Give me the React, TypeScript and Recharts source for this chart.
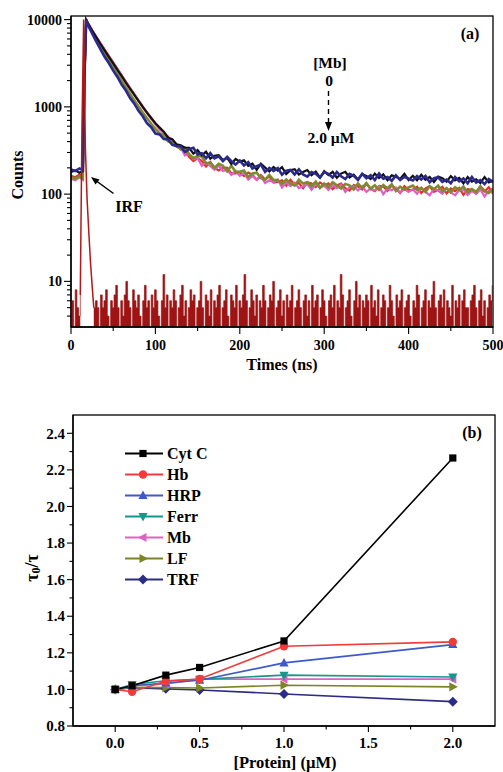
import React from 'react';
import { ComposedChart, LineChart, Line, Area, XAxis, YAxis, Legend } from 'recharts';

const FONT = '"Liberation Serif", "Times New Roman", serif';

// ---------- panel (a): fluorescence decay, [Mb] 0 -> 2.0 uM ----------
const decayTimes = [
  0, 5, 10, 14, 16, 18, 20, 25, 30, 35, 40, 45, 50, 55, 60, 65, 70, 75, 80, 85, 90, 95, 100,
  105, 110, 115, 120, 125, 130, 135, 140, 145, 150, 155, 160, 165, 170, 175, 180, 185, 190, 195, 200,
  205, 210, 215, 220, 225, 230, 235, 240, 245, 250, 255, 260, 265, 270, 275, 280, 285, 290, 295, 300,
  305, 310, 315, 320, 325, 330, 335, 340, 345, 350, 355, 360, 365, 370, 375, 380, 385, 390, 395, 400,
  405, 410, 415, 420, 425, 430, 435, 440, 445, 450, 455, 460, 465, 470, 475, 480, 485, 490, 495, 500,
];

const traceNavy = [
  192, 184, 197, 188, 2600, 10000, 8700,
  6950, 5580, 4570, 3720, 3160, 2600, 2200, 1800, 1540, 1260, 1090, 900, 780, 650, 585, 495,
  484, 428, 423, 367, 356, 352, 304, 328, 339, 285, 295, 258, 295, 257, 271, 239, 267, 238, 218, 242,
  213, 233, 197, 209, 218, 180, 200, 185, 199, 167, 186, 190, 168, 193, 168, 159, 179, 171, 155, 179,
  171, 155, 179, 160, 149, 171, 162, 145, 171, 152, 165, 145, 172, 150, 157, 142, 164, 145, 158, 150,
  143, 161, 147, 162, 137, 152, 156, 138, 147, 133, 157, 140, 151, 133, 157, 136, 145, 130, 149, 137,
];

const traceBlack = [
  180, 187, 176, 183, 2200, 9900, 9100,
  7500, 6250, 5250, 4420, 3720, 3150, 2660, 2250, 1900, 1610, 1370, 1170, 1000, 860, 745, 650,
  578, 520, 443, 426, 373, 363, 340, 340, 291, 320, 278, 307, 255, 275, 280, 246, 260, 222, 253, 236,
  244, 211, 223, 190, 224, 202, 182, 204, 186, 204, 170, 188, 193, 168, 179, 189, 165, 181, 155, 183,
  165, 180, 154, 172, 180, 155, 167, 147, 170, 162, 149, 172, 153, 168, 144, 164, 158, 149, 171, 145,
  162, 144, 167, 146, 157, 138, 159, 152, 139, 161, 144, 153, 133, 157, 139, 148, 134, 157, 136, 143,
];

const traceRed = [
  162, 156, 168, 158, 2300, 10000, 9200,
  7600, 6350, 5350, 4520, 3820, 3230, 2730, 2310, 1950, 1650, 1400, 1190, 1010, 865, 745, 645,
  581, 495, 458, 402, 351, 332, 316, 266, 239, 258, 239, 207, 233, 200, 187, 201, 200, 173, 173, 178,
  161, 177, 166, 146, 165, 147, 160, 136, 138, 144, 125, 146, 128, 134, 117, 137, 132, 121, 136, 125,
  133, 114, 126, 132, 117, 110, 127, 122, 113, 131, 115, 108, 124, 122, 109, 126, 115, 103, 123, 111,
  112, 121, 103, 116, 123, 106, 112, 121, 102, 116, 108, 118, 98, 114, 112, 102, 116, 107, 120, 101,
];

const traceMagenta = [
  150, 144, 156, 146, 2100, 9900, 9150,
  7550, 6300, 5300, 4480, 3780, 3200, 2700, 2280, 1920, 1630, 1380, 1170, 990, 850, 730, 630,
  549, 505, 435, 413, 362, 343, 278, 288, 252, 259, 211, 231, 211, 190, 212, 184, 190, 166, 184, 162,
  175, 147, 162, 146, 160, 134, 144, 137, 147, 119, 136, 124, 135, 117, 123, 130, 112, 131, 119, 125,
  112, 127, 117, 128, 106, 120, 123, 110, 123, 106, 116, 110, 123, 100, 116, 111, 119, 104, 114, 106,
  114, 101, 117, 106, 97, 114, 110, 101, 117, 105, 97, 111, 113, 98, 109, 101, 113, 94, 109, 104,
];

const traceOlive = [
  156, 150, 160, 152, 2400, 10000, 8900,
  7200, 5950, 4900, 4060, 3400, 2850, 2390, 2000, 1680, 1410, 1190, 1010, 860, 740, 640, 560,
  497, 474, 401, 389, 367, 324, 339, 287, 258, 274, 270, 225, 231, 200, 223, 211, 182, 211, 180, 180,
  186, 157, 172, 176, 153, 146, 166, 145, 145, 131, 147, 133, 125, 146, 132, 137, 123, 139, 118, 132,
  120, 137, 126, 116, 131, 126, 113, 132, 118, 134, 115, 126, 112, 127, 117, 130, 109, 122, 113, 119,
  125, 112, 118, 106, 123, 114, 125, 108, 117, 105, 120, 111, 122, 105, 114, 106, 123, 109, 103, 116,
];

// instrument response, one value per 2 ns channel starting at 1 ns
const irfCounts = [
  6, 1, 8, 5, 4,
  7, 600, 10000, 350, 90, 38, 17, 9, 5,
  6, 5, 1, 7, 5, 6, 8, 4, 1, 6, 5, 7, 9, 5, 1, 6, 4, 7, 10, 6,
  5, 1, 8, 6, 5, 7, 4, 1, 6, 9, 5, 6, 1, 7, 5, 8, 6, 4, 1, 6,
  12, 5, 7, 1, 6, 5, 8, 6, 1, 5, 7, 9, 4, 6, 1, 5, 8, 6, 7, 1,
  5, 6, 10, 5, 1, 7, 6, 4, 8, 1, 6, 5, 7, 9, 1, 5, 6, 8, 4, 1,
  7, 6, 5, 9, 1, 6, 5, 7, 12, 6, 1, 5, 8, 6, 4, 7, 1, 6, 5, 9,
  6, 1, 5, 7, 6, 10, 1, 5, 6, 8, 4, 6, 1, 7, 5, 6, 9, 1, 5, 6,
  8, 5, 1, 6, 7, 4, 6, 1, 9, 5, 6, 7, 1, 5, 8, 6, 4, 1, 6, 7,
  5, 9, 1, 6, 5, 12, 7, 1, 5, 6, 8, 4, 1, 6, 10, 5, 7, 1, 6, 5,
  7, 6, 1, 9, 5, 6, 4, 8, 1, 5, 7, 6, 1, 5, 9, 6, 4, 1, 7, 5,
  6, 8, 1, 5, 6, 7, 4, 1, 6, 5, 9, 7, 1, 5, 6, 8, 1, 6, 5, 7,
  10, 5, 1, 6, 7, 5, 8, 1, 6, 5, 4, 9, 1, 6, 5, 7, 1, 6, 8, 5,
  5, 1, 6, 7, 9, 5, 1, 6, 8, 4, 6, 1, 5, 7, 6, 9,
];
// the excitation pulse itself (channels between these times) is drawn as an outline
const irfPulseStart = 11;
const irfPulseEnd = 27;

const timeTicks = [0, 50, 100, 150, 200, 250, 300, 350, 400, 450, 500];
const countMajor = [10, 100, 1000, 10000];
const countTicks = [
  4, 5, 6, 7, 8, 9, 10, 20, 30, 40, 50, 60, 70, 80, 90, 100, 200, 300, 400, 500, 600, 700, 800, 900,
  1000, 2000, 3000, 4000, 5000, 6000, 7000, 8000, 9000, 10000,
];

const decayRows = decayTimes.map((t, i) => ({
  t,
  navy: traceNavy[i],
  black: traceBlack[i],
  red: traceRed[i],
  magenta: traceMagenta[i],
  olive: traceOlive[i],
}));
const irfRows = irfCounts.map((c, i) => {
  const t = 1 + 2 * i;
  const inPulse = t >= irfPulseStart && t <= irfPulseEnd;
  const outside = t <= irfPulseStart || t >= irfPulseEnd;
  return { t, floor: outside ? c : null, pulse: inPulse ? c : null };
});

// ---------- panel (b): tau0/tau vs protein ----------
const protein = [0, 0.1, 0.3, 0.5, 1.0, 2.0];
const cytC = [1.0, 1.02, 1.078, 1.12, 1.265, 2.265];
const hb = [1.0, 0.987, 1.045, 1.057, 1.236, 1.26];
const hrp = [1.0, 1.02, 1.035, 1.05, 1.145, 1.245];
const ferr = [1.0, 1.027, 1.047, 1.055, 1.078, 1.068];
const mb = [1.0, 1.02, 1.03, 1.056, 1.056, 1.056];
const lf = [1.0, 1.012, 1.01, 1.008, 1.023, 1.014];
const trf = [1.0, 1.01, 1.003, 0.997, 0.975, 0.933];

const proteinTicks = [0, 0.25, 0.5, 0.75, 1.0, 1.25, 1.5, 1.75, 2.0];
const ratioTicks = [0.8, 0.9, 1.0, 1.1, 1.2, 1.3, 1.4, 1.5, 1.6, 1.7, 1.8, 1.9, 2.0, 2.1, 2.2, 2.3, 2.4];

const proteinSeries = [
  { key: 'cytC', name: 'Cyt C', color: '#000000', shape: 'square', values: cytC },
  { key: 'hb', name: 'Hb', color: '#f23a3a', shape: 'circle', values: hb },
  { key: 'hrp', name: 'HRP', color: '#3d5ac8', shape: 'up', values: hrp },
  { key: 'ferr', name: 'Ferr', color: '#16968c', shape: 'down', values: ferr },
  { key: 'mb', name: 'Mb', color: '#de62c4', shape: 'left', values: mb },
  { key: 'lf', name: 'LF', color: '#7d8424', shape: 'right', values: lf },
  { key: 'trf', name: 'TRF', color: '#2c2c86', shape: 'diamond', values: trf },
];

const proteinRows = protein.map((x, i) => {
  const row: Record<string, number> = { x };
  proteinSeries.forEach((s) => {
    row[s.key] = s.values[i];
  });
  return row;
});

function Marker({ shape, cx, cy, color }: { shape: string; cx: number; cy: number; color: string }) {
  const r = 4.2;
  if (shape === 'square') return <rect x={cx - 3.6} y={cy - 3.6} width={7.2} height={7.2} fill={color} />;
  if (shape === 'circle') return <circle cx={cx} cy={cy} r={r} fill={color} />;
  let pts = '';
  if (shape === 'up') pts = `${cx},${cy - 5} ${cx + 4.6},${cy + 3.5} ${cx - 4.6},${cy + 3.5}`;
  if (shape === 'down') pts = `${cx},${cy + 5} ${cx + 4.6},${cy - 3.5} ${cx - 4.6},${cy - 3.5}`;
  if (shape === 'left') pts = `${cx - 5},${cy} ${cx + 3.5},${cy - 4.6} ${cx + 3.5},${cy + 4.6}`;
  if (shape === 'right') pts = `${cx + 5},${cy} ${cx - 3.5},${cy - 4.6} ${cx - 3.5},${cy + 4.6}`;
  if (shape === 'diamond') pts = `${cx},${cy - 5} ${cx + 5},${cy} ${cx},${cy + 5} ${cx - 5},${cy}`;
  return <polygon points={pts} fill={color} />;
}

const tickText = { fontFamily: FONT, fontWeight: 'bold' as const, fill: '#000' };

function CountTick(props: any) {
  const { x, y, payload } = props;
  const major = countMajor.includes(payload.value);
  return (
    <g>
      <line x1={x - (major ? 7 : 4)} x2={x} y1={y} y2={y} stroke="#000" strokeWidth={1.1} />
      {major && (
        <text x={x - 9} y={y} dy="0.35em" textAnchor="end" fontSize={14} {...tickText}>
          {payload.value}
        </text>
      )}
    </g>
  );
}

function TimeTick(props: any) {
  const { x, y, payload } = props;
  const major = payload.value % 100 === 0;
  return (
    <g>
      <line x1={x} x2={x} y1={y} y2={y + (major ? 7 : 4)} stroke="#000" strokeWidth={1.1} />
      {major && (
        <text x={x} y={y + 13} dy="0.71em" textAnchor="middle" fontSize={14} {...tickText}>
          {payload.value}
        </text>
      )}
    </g>
  );
}

function RatioTick(props: any) {
  const { x, y, payload } = props;
  const major = Math.round(payload.value * 10) % 2 === 0;
  return (
    <g>
      <line x1={x - (major ? 6 : 3.5)} x2={x} y1={y} y2={y} stroke="#000" strokeWidth={1.1} />
      {major && (
        <text x={x - 8} y={y} dy="0.35em" textAnchor="end" fontSize={15} {...tickText}>
          {payload.value.toFixed(1)}
        </text>
      )}
    </g>
  );
}

function ProteinTick(props: any) {
  const { x, y, payload } = props;
  const major = Math.round(payload.value * 100) % 50 === 0;
  return (
    <g>
      <line x1={x} x2={x} y1={y} y2={y + (major ? 6 : 3.5)} stroke="#000" strokeWidth={1.1} />
      {major && (
        <text x={x} y={y + 11.5} dy="0.71em" textAnchor="middle" fontSize={15} {...tickText}>
          {payload.value.toFixed(1)}
        </text>
      )}
    </g>
  );
}

function ProteinLegend() {
  return (
    <div style={{ fontFamily: FONT, fontWeight: 'bold', fontSize: 16, color: '#000' }}>
      {proteinSeries.map((s) => (
        <div key={s.key} style={{ display: 'flex', alignItems: 'center', height: 21 }}>
          <svg width={40} height={21}>
            <line x1={0} x2={38} y1={10.5} y2={10.5} stroke={s.color} strokeWidth={1.8} />
            <Marker shape={s.shape} cx={18} cy={10.5} color={s.color} />
          </svg>
          <span style={{ marginLeft: 2, lineHeight: '21px' }}>{s.name}</span>
        </div>
      ))}
    </div>
  );
}

const axisLine = { stroke: '#000', strokeWidth: 1.3 };
const txt = { fontFamily: FONT, fontWeight: 'bold' as const, fill: '#000' };

// drawing order: lower band first, navy (2.0 uM) on top
const decaySeries = [
  { key: 'red', color: '#e8302a', width: 2.2 },
  { key: 'magenta', color: '#e05ec8', width: 2.2 },
  { key: 'olive', color: '#7e8a2c', width: 2.6 },
  { key: 'black', color: '#111111', width: 2.2 },
  { key: 'navy', color: '#2a2a8e', width: 2.6 },
];

export default function App() {
  return (
    <div style={{ position: 'absolute', left: 0, top: 0, width: 503, height: 772, background: '#fff' }}>
      <div style={{ position: 'absolute', left: 0, top: 0 }}>
        <ComposedChart width={503} height={390} margin={{ top: 16, right: 10, bottom: 0, left: 0 }}>
          <XAxis
            type="number"
            dataKey="t"
            domain={[0, 500]}
            ticks={timeTicks}
            interval={0}
            height={63}
            tickSize={0}
            tickMargin={0}
            tickLine={false}
            axisLine={axisLine}
            tick={(p: any) => <TimeTick {...p} />}
            allowDataOverflow
          />
          <YAxis
            type="number"
            scale="log"
            domain={[3, 11000]}
            ticks={countTicks}
            interval={0}
            width={71}
            tickSize={0}
            tickMargin={0}
            tickLine={false}
            axisLine={axisLine}
            tick={(p: any) => <CountTick {...p} />}
            allowDataOverflow
          />
          {decaySeries.map((s) => (
            <Line
              key={s.key}
              data={decayRows}
              dataKey={s.key}
              stroke={s.color}
              strokeWidth={s.width}
              dot={false}
              activeDot={false}
              isAnimationActive={false}
            />
          ))}
          <Area
            data={irfRows}
            dataKey="floor"
            type="stepAfter"
            stroke="#9e1414"
            strokeWidth={0.7}
            fill="#9e1414"
            fillOpacity={1}
            dot={false}
            activeDot={false}
            isAnimationActive={false}
          />
          <Line
            data={irfRows}
            dataKey="pulse"
            stroke="#b01a1a"
            strokeWidth={1.5}
            dot={false}
            activeDot={false}
            isAnimationActive={false}
          />
        </ComposedChart>
      </div>

      <div style={{ position: 'absolute', left: 0, top: 400 }}>
        <LineChart data={proteinRows} width={503} height={372} margin={{ top: 15, right: 8, bottom: 0, left: 0 }}>
          <XAxis
            type="number"
            dataKey="x"
            domain={[-0.25, 2.25]}
            ticks={proteinTicks}
            interval={0}
            height={46}
            tickSize={0}
            tickMargin={0}
            tickLine={false}
            axisLine={axisLine}
            tick={(p: any) => <ProteinTick {...p} />}
          />
          <YAxis
            type="number"
            domain={[0.8, 2.5]}
            ticks={ratioTicks}
            interval={0}
            width={73}
            tickSize={0}
            tickMargin={0}
            tickLine={false}
            axisLine={axisLine}
            tick={(p: any) => <RatioTick {...p} />}
          />
          <Legend
            layout="vertical"
            align="center"
            verticalAlign="middle"
            wrapperStyle={{ left: 125, top: 43, width: 'auto' }}
            content={() => <ProteinLegend />}
          />
          {[...proteinSeries].reverse().map((s) => (
            <Line
              key={s.key}
              dataKey={s.key}
              name={s.name}
              stroke={s.color}
              strokeWidth={1.6}
              isAnimationActive={false}
              activeDot={false}
              dot={(p: any) => <Marker key={`${s.key}-${p.index}`} shape={s.shape} cx={p.cx} cy={p.cy} color={s.color} />}
            />
          ))}
        </LineChart>
      </div>

      <svg width={503} height={772} style={{ position: 'absolute', left: 0, top: 0, pointerEvents: 'none' }}>
        <rect x={71} y={16} width={422} height={311} fill="none" stroke="#000" strokeWidth={1.3} />
        <rect x={73} y={415} width={422} height={311} fill="none" stroke="#000" strokeWidth={1.3} />

        <text x={17.5} y={175} transform="rotate(-90 17.5 175)" textAnchor="middle" dominantBaseline="central" fontSize={16} {...txt}>
          Counts
        </text>
        <text x={282} y={364} textAnchor="middle" dominantBaseline="central" fontSize={16} {...txt}>
          Times (ns)
        </text>
        <text x={470} y={33} textAnchor="middle" dominantBaseline="central" fontSize={16} {...txt}>
          (a)
        </text>
        <text x={330} y={62} textAnchor="middle" dominantBaseline="central" fontSize={15.5} {...txt}>
          [Mb]
        </text>
        <text x={329} y={80} textAnchor="middle" dominantBaseline="central" fontSize={15.5} {...txt}>
          0
        </text>
        <line x1={328.5} y1={91} x2={328.5} y2={124} stroke="#000" strokeWidth={1.4} strokeDasharray="5 4" />
        <polygon points="325,122 332,122 328.5,131" fill="#000" />
        <text x={331} y={137} textAnchor="middle" dominantBaseline="central" fontSize={15.5} {...txt}>
          2.0 µM
        </text>
        <text x={129} y={206} textAnchor="middle" dominantBaseline="central" fontSize={16} {...txt}>
          IRF
        </text>
        <line x1={113.5} y1={193.5} x2={95} y2={180} stroke="#000" strokeWidth={1.5} />
        <polygon points="91,177 99.5,179.5 95.5,184.5" fill="#000" />

        <text x={472} y={432} textAnchor="middle" dominantBaseline="central" fontSize={16} {...txt}>
          (b)
        </text>
        <text x={285} y={762} textAnchor="middle" dominantBaseline="central" fontSize={16.5} {...txt}>
          [Protein] (µM)
        </text>
        <text x={32} y={568} transform="rotate(-90 32 568)" textAnchor="middle" dominantBaseline="central" fontSize={18} {...txt}>
          τ<tspan dy={4} fontSize={12}>0</tspan>
          <tspan dy={-4}>/τ</tspan>
        </text>
      </svg>
    </div>
  );
}
